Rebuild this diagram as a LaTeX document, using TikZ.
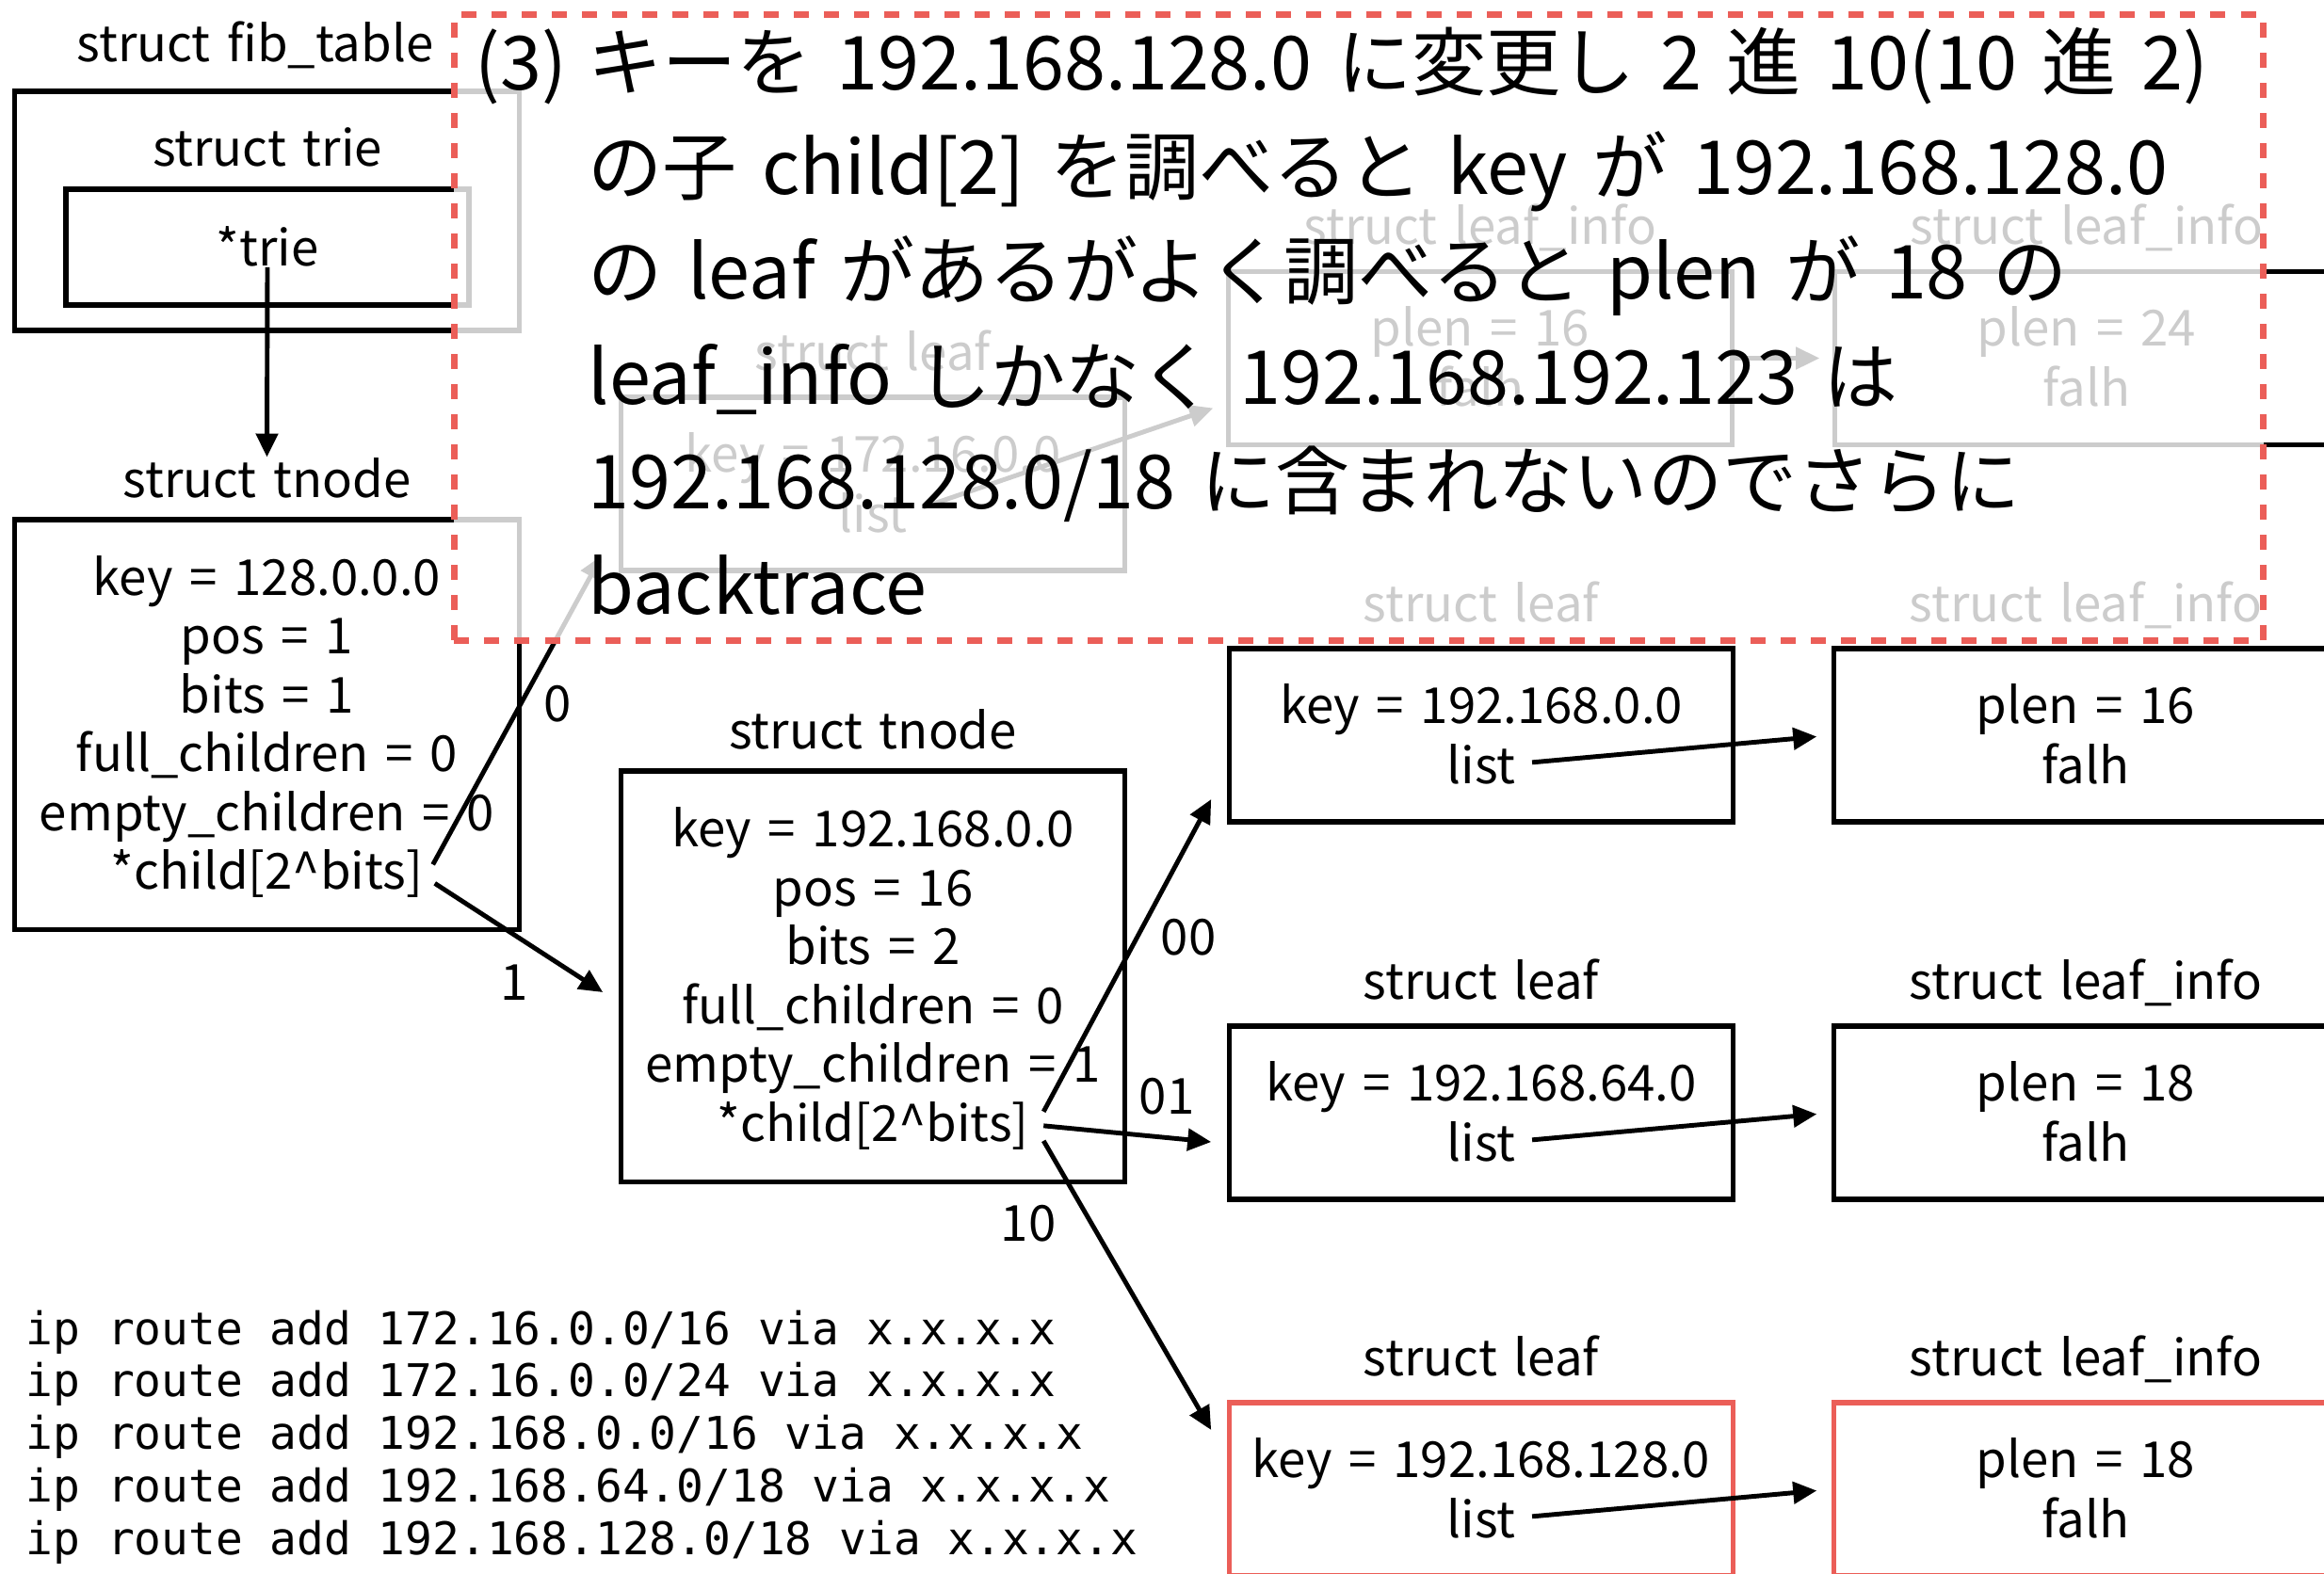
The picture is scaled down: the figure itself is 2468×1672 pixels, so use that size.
\documentclass[tikz,border=0pt]{standalone}
\usepackage{fontspec}
\setmainfont[WordSpace=1.5]{Noto Sans CJK JP}
\setmonofont{DejaVu Sans Mono}
\usepackage{xcolor}
\usetikzlibrary{positioning,arrows.meta}
\definecolor{notered}{RGB}{235,94,88}

\begin{document}
\begin{tikzpicture}[x=0.01cm,y=-0.01cm,font=\fontsize{15pt}{18pt}\selectfont]
  \tikzstyle{sbox}=[draw,line width=1.5pt,minimum width=5.34cm,minimum height=1.84cm,inner sep=0pt]
  \tikzstyle{fld}=[anchor=base,inner sep=0pt]
  \tikzstyle{lab}=[anchor=base,inner sep=0pt]
  \tikzstyle{arr}=[line width=1.4pt,-{Triangle[length=0.25cm,width=0.23cm]}]
  \tikzstyle{note}=[draw=notered,line width=2pt,dash pattern=on 0.16cm off 0.16cm,fill=white,fill opacity=0.8,inner sep=0pt]
  \tikzstyle{big}=[anchor=base west,inner sep=0pt,font=\fontsize{22.5pt}{27pt}\selectfont]
  \tikzstyle{cmd}=[anchor=base west,inner sep=0pt,font=\ttfamily\fontsize{13.6pt}{16pt}\selectfont]
  \useasboundingbox (0,0) rectangle (2468,1672);

  % fib_table and trie
  \node[sbox,minimum width=5.35cm,minimum height=2.54cm] (fib) at (283.5,224) {};
  \node[lab,anchor=base east] (fibl) at (461,65) {struct fib\_table};
  \node[sbox,minimum width=4.28cm,minimum height=1.23cm] (trie) at (284,262.5) {};
  \node[lab] (triel) at ([yshift=0.22cm]trie.north) {struct trie};
  \node[fld] (triep) at ([yshift=-0.2cm]trie.center) {*trie};

  % root tnode
  \node[sbox,minimum width=5.35cm,minimum height=4.35cm] (tn1) at (283.5,769.5) {};
  \node[lab] (tn1l) at ([yshift=0.21cm]tn1.north) {struct tnode};
  \foreach \s [count=\i] in {key = 128.0.0.0,pos = 1,bits = 1,full\_children = 0,empty\_children = 0,*child[2\textasciicircum bits]}
    \node[fld] (tn1-\i) at ([yshift={(3.5-\i)*0.625cm-0.19cm}]tn1.center) {\s};
  \draw[arr] (triep.south) -- (tn1l.north);

  % tnode 192.168.0.0
  \node[sbox,minimum width=5.34cm,minimum height=4.36cm] (tn2) at (927,1037) {};
  \node[lab] (tn2l) at ([yshift=0.21cm]tn2.north) {struct tnode};
  \foreach \s [count=\i] in {key = 192.168.0.0,pos = 16,bits = 2,full\_children = 0,empty\_children = 1,*child[2\textasciicircum bits]}
    \node[fld] (tn2-\i) at ([yshift={(3.5-\i)*0.625cm-0.19cm}]tn2.center) {\s};

  % leaf 172.16.0.0 and its leaf_info list
  \node[sbox] (gl) at (927,514) {};
  \node[lab] (gll) at ([yshift=0.26cm]gl.north) {struct leaf};
  \node[fld] (gl-k) at ([yshift=0.13cm]gl.center) {key = 172.16.0.0};
  \node[fld] (gl-b) at ([yshift=-0.51cm]gl.center) {list};
  \node[sbox] (gi1) at (1572,380.5) {};
  \node[lab] (gi1l) at ([yshift=0.26cm]gi1.north) {struct leaf\_info};
  \node[fld] (gi1-a) at ([yshift=0.13cm]gi1.center) {plen = 16};
  \node[fld] (gi1-b) at ([yshift=-0.51cm]gi1.center) {falh};
  \node[sbox] (gi2) at (2216,380.5) {};
  \node[lab] (gi2l) at ([yshift=0.26cm]gi2.north) {struct leaf\_info};
  \node[fld] (gi2-a) at ([yshift=0.13cm]gi2.center) {plen = 24};
  \node[fld] (gi2-b) at ([yshift=-0.51cm]gi2.center) {falh};
  \coordinate (gtip) at ([xshift=-0.14cm,yshift=-0.53cm]gi1.west);
  \draw[arr,shorten <=0.17cm] (gl-b.east) -- (gtip);
  \draw[arr,shorten >=0.14cm] (gi1.east) -- (gi2.west);

  % leaves under tnode 192.168.0.0
  \foreach \k/\p/\y/\c [count=\r] in {0.0/16/781/black,64.0/18/1182/black,128.0/18/1582/notered}{
    \node[sbox,draw=\c] (l\r) at (1573,\y) {};
    \node[lab] (l\r-l) at ([yshift=0.26cm]l\r.north) {struct leaf};
    \node[fld] (l\r-k) at ([yshift=0.13cm]l\r.center) {key = 192.168.\k};
    \node[fld] (l\r-b) at ([yshift=-0.51cm]l\r.center) {list};
    \node[sbox,draw=\c] (i\r) at (2215,\y) {};
    \node[lab] (i\r-l) at ([yshift=0.26cm]i\r.north) {struct leaf\_info};
    \node[fld] (i\r-a) at ([yshift=0.13cm]i\r.center) {plen = \p};
    \node[fld] (i\r-b) at ([yshift=-0.51cm]i\r.center) {falh};
    \draw[arr,shorten <=0.17cm,shorten >=0.16cm] (l\r-b.east) -- (i\r.west);
  }

  % child pointers
  \coordinate (s0) at ([xshift=0.1cm,yshift=0.1cm]tn1-6.east);
  \coordinate (s1) at ([xshift=0.12cm,yshift=-0.1cm]tn1-6.east);
  \coordinate (t0) at ([xshift=-0.18cm,yshift=-0.76cm]gl.west);
  \coordinate (t1) at ([xshift=-0.17cm,yshift=-0.17cm]tn2.west);
  \draw[arr] (s0) -- (t0);
  \draw[arr] (s1) -- (t1);
  \coordinate (s00) at ([xshift=0.15cm,yshift=0.15cm]tn2-6.east);
  \coordinate (s01) at ([xshift=0.15cm]tn2-6.east);
  \coordinate (s10) at ([xshift=0.15cm,yshift=-0.16cm]tn2-6.east);
  \coordinate (t00) at ([xshift=-0.17cm,yshift=-0.68cm]l1.west);
  \coordinate (t01) at ([xshift=-0.17cm,yshift=-0.31cm]l2.west);
  \coordinate (t10) at ([xshift=-0.17cm,yshift=0.63cm]l3.west);
  \draw[arr] (s00) -- (t00);
  \draw[arr] (s01) -- (t01);
  \draw[arr] (s10) -- (t10);
  \node[fld,anchor=center] (b0) at (592,748) {0};
  \node[fld,anchor=center] (b1) at (546,1044) {1};
  \node[fld,anchor=center] (b00) at (1262,996) {00};
  \node[fld,anchor=center] (b01) at (1239,1165) {01};
  \node[fld,anchor=center] (b10) at (1092,1300) {10};

  % routes
  \foreach \a/\m [count=\i] in {172.16.0.0/16,172.16.0.0/24,192.168.0.0/16,192.168.64.0/18,192.168.128.0/18}
    \node[cmd] (cmd\i) at (27,{1428+55.8*(\i-1)}) {ip route add \a/\m{} via x.x.x.x};

  % step (3) note
  \node[note,minimum width=19.2cm,minimum height=6.64cm] (note) at (1443,348) {};
  \node[big] (num) at (504,95) {(3)};
  \foreach \t [count=\i] in {{キーを 192.168.128.0 に変更し 2 進 10(10 進 2)},{の子 child[2] を調べると key が 192.168.128.0},{の leaf があるがよく調べると plen が 18 の},{leaf\_info しかなく 192.168.192.123 は},{192.168.128.0/18 に含まれないのでさらに},{backtrace}}
    \node[big] (ln\i) at (624,{95+111.4*(\i-1)}) {\t};
\end{tikzpicture}
\end{document}
